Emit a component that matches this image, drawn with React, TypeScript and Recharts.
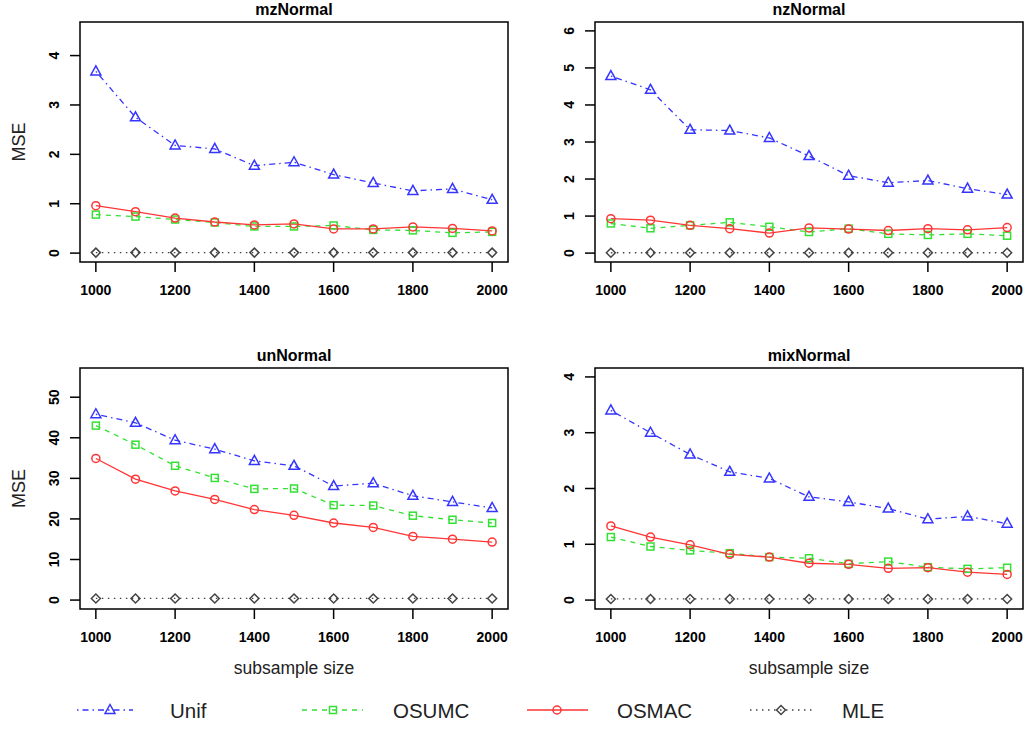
import React from "react";
import { LineChart, Line, XAxis, YAxis, ReferenceArea } from "recharts";

// subsample sizes on the x axis
const sizes = [1000, 1100, 1200, 1300, 1400, 1500, 1600, 1700, 1800, 1900, 2000];
const xTicks = [1000, 1200, 1400, 1600, 1800, 2000];

// mzNormal
const mzUnif = [3.68, 2.75, 2.18, 2.11, 1.77, 1.84, 1.59, 1.42, 1.26, 1.3, 1.08];
const mzOsumc = [0.78, 0.74, 0.68, 0.62, 0.54, 0.54, 0.56, 0.47, 0.46, 0.41, 0.43];
const mzOsmac = [0.96, 0.84, 0.71, 0.63, 0.57, 0.59, 0.49, 0.49, 0.53, 0.5, 0.45];
const mzMle = [0.01, 0.01, 0.01, 0.01, 0.01, 0.01, 0.01, 0.01, 0.01, 0.01, 0.01];

// nzNormal
const nzUnif = [4.78, 4.41, 3.33, 3.31, 3.11, 2.62, 2.09, 1.9, 1.96, 1.74, 1.58];
const nzOsumc = [0.8, 0.67, 0.75, 0.83, 0.71, 0.57, 0.66, 0.52, 0.49, 0.52, 0.47];
const nzOsmac = [0.93, 0.89, 0.75, 0.66, 0.54, 0.68, 0.65, 0.61, 0.66, 0.63, 0.69];
const nzMle = [0.01, 0.01, 0.01, 0.01, 0.01, 0.01, 0.01, 0.01, 0.01, 0.01, 0.01];

// unNormal
const unUnif = [45.8, 43.7, 39.4, 37.2, 34.3, 33.1, 28.1, 28.8, 25.7, 24.2, 22.7];
const unOsumc = [43.0, 38.3, 33.1, 30.1, 27.4, 27.5, 23.4, 23.3, 20.8, 19.8, 19.0];
const unOsmac = [34.9, 29.8, 26.9, 24.8, 22.3, 20.9, 19.0, 17.9, 15.7, 15.0, 14.3];
const unMle = [0.4, 0.4, 0.4, 0.4, 0.4, 0.4, 0.4, 0.4, 0.4, 0.4, 0.4];

// mixNormal
const mixUnif = [3.4, 3.0, 2.61, 2.3, 2.18, 1.85, 1.76, 1.64, 1.45, 1.5, 1.37];
const mixOsumc = [1.13, 0.96, 0.89, 0.84, 0.77, 0.75, 0.65, 0.69, 0.59, 0.56, 0.58];
const mixOsmac = [1.33, 1.13, 0.99, 0.82, 0.77, 0.66, 0.64, 0.57, 0.58, 0.5, 0.46];
const mixMle = [0.02, 0.02, 0.02, 0.02, 0.02, 0.02, 0.02, 0.02, 0.02, 0.02, 0.02];

const FONT = '"Liberation Sans", Arial, Helvetica, sans-serif';
const BLUE = "#3535ff";
const GREEN = "#33e033";
const RED = "#ff3535";
const GRAY = "#444444";

const BOX_W = 428;
const PAD = 4;

type PanelCfg = {
  title: string;
  ymax: number;
  yticks: number[];
  unif: number[];
  osumc: number[];
  osmac: number[];
  mle: number[];
  left: number; // left edge of the plot box
  top: number; // top edge of the plot box
  boxH: number;
};

const panels: PanelCfg[] = [
  { title: "mzNormal", ymax: 4.5, yticks: [0, 1, 2, 3, 4], unif: mzUnif, osumc: mzOsumc, osmac: mzOsmac, mle: mzMle, left: 80, top: 22, boxH: 240 },
  { title: "nzNormal", ymax: 6, yticks: [0, 1, 2, 3, 4, 5, 6], unif: nzUnif, osumc: nzOsumc, osmac: nzOsmac, mle: nzMle, left: 595, top: 22, boxH: 240 },
  { title: "unNormal", ymax: 55, yticks: [0, 10, 20, 30, 40, 50], unif: unUnif, osumc: unOsumc, osmac: unOsmac, mle: unMle, left: 80, top: 368, boxH: 241 },
  { title: "mixNormal", ymax: 4, yticks: [0, 1, 2, 3, 4], unif: mixUnif, osumc: mixOsumc, osmac: mixOsmac, mle: mixMle, left: 595, top: 368, boxH: 241 },
];

// R style point symbols
const renderTri = (p: any) =>
  p.cx == null ? <g key={`t${p.index}`} /> : (
    <polygon
      key={`t${p.index}`}
      points={`${p.cx},${p.cy - 5.5} ${p.cx - 5},${p.cy + 3.5} ${p.cx + 5},${p.cy + 3.5}`}
      fill="none"
      stroke={BLUE}
      strokeWidth={1.5}
    />
  );
const renderSq = (p: any) =>
  p.cx == null ? <g key={`s${p.index}`} /> : (
    <rect key={`s${p.index}`} x={p.cx - 3.5} y={p.cy - 3.5} width={7} height={7} fill="none" stroke={GREEN} strokeWidth={1.5} />
  );
const renderCirc = (p: any) =>
  p.cx == null ? <g key={`c${p.index}`} /> : (
    <circle key={`c${p.index}`} cx={p.cx} cy={p.cy} r={4} fill="none" stroke={RED} strokeWidth={1.5} />
  );
const renderDia = (p: any) =>
  p.cx == null ? <g key={`d${p.index}`} /> : (
    <polygon
      key={`d${p.index}`}
      points={`${p.cx},${p.cy - 4.5} ${p.cx + 4.5},${p.cy} ${p.cx},${p.cy + 4.5} ${p.cx - 4.5},${p.cy}`}
      fill="none"
      stroke={GRAY}
      strokeWidth={1.5}
    />
  );

const renderXTick = (p: any) => (
  <text x={p.x} y={p.y + 23} textAnchor="middle" fontFamily={FONT} fontSize={14} fontWeight="bold" fill="#000">
    {p.payload.value}
  </text>
);

const renderYTick = (p: any) => {
  const bx = p.x - 11;
  return (
    <text
      x={bx}
      y={p.y}
      transform={`rotate(-90 ${bx} ${p.y})`}
      textAnchor="middle"
      fontFamily={FONT}
      fontSize={14}
      fontWeight="bold"
      fill="#000"
    >
      {p.payload.value}
    </text>
  );
};

function Panel({ cfg }: { cfg: PanelCfg }) {
  const data = sizes.map((s, i) => ({
    size: s,
    unif: cfg.unif[i],
    osumc: cfg.osumc[i],
    osmac: cfg.osmac[i],
    mle: cfg.mle[i],
  }));
  const lo = -0.04 * cfg.ymax;
  const hi = 1.04 * cfg.ymax;

  return (
    <div style={{ position: "absolute", left: cfg.left - 80, top: cfg.top - PAD }}>
      <LineChart
        width={80 + BOX_W + PAD}
        height={PAD + cfg.boxH + 40}
        data={data}
        margin={{ top: PAD, right: PAD, left: 0, bottom: 0 }}
      >
        <XAxis
          type="number"
          dataKey="size"
          domain={[960, 2040]}
          ticks={xTicks}
          interval={0}
          allowDataOverflow
          axisLine={false}
          tickSize={10}
          tickMargin={0}
          tickLine={{ stroke: "#000", strokeWidth: 1.5 }}
          tick={renderXTick}
          height={40}
        />
        <YAxis
          type="number"
          domain={[lo, hi]}
          ticks={cfg.yticks}
          interval={0}
          allowDataOverflow
          width={80}
          axisLine={false}
          tickSize={10}
          tickMargin={0}
          tickLine={{ stroke: "#000", strokeWidth: 1.5 }}
          tick={renderYTick}
        />
        <ReferenceArea
          x1={960}
          x2={2040}
          y1={lo}
          y2={hi}
          fill="none"
          stroke="#000"
          strokeWidth={1.5}
          ifOverflow="visible"
        />
        <Line dataKey="unif" stroke={BLUE} strokeWidth={1.3} strokeDasharray="1.5 4 6 4" dot={renderTri} activeDot={false} isAnimationActive={false} />
        <Line dataKey="osumc" stroke={GREEN} strokeWidth={1.3} strokeDasharray="5 5" dot={renderSq} activeDot={false} isAnimationActive={false} />
        <Line dataKey="osmac" stroke={RED} strokeWidth={1.3} dot={renderCirc} activeDot={false} isAnimationActive={false} />
        <Line dataKey="mle" stroke={GRAY} strokeWidth={1.3} strokeDasharray="1.5 4.5" dot={renderDia} activeDot={false} isAnimationActive={false} />
      </LineChart>
    </div>
  );
}

export default function App() {
  return (
    <div style={{ position: "absolute", left: 0, top: 0, width: 1027, height: 729, background: "#fff", fontFamily: FONT }}>
      {panels.map((p) => (
        <Panel key={p.title} cfg={p} />
      ))}

      {/* titles, axis labels and legend */}
      <svg width={1027} height={729} style={{ position: "absolute", left: 0, top: 0, pointerEvents: "none" }}>
        {panels.map((p) => (
          <text key={p.title} x={p.left + BOX_W / 2} y={p.top - 7.5} textAnchor="middle" fontFamily={FONT} fontSize={16} fontWeight="bold" fill="#000">
            {p.title}
          </text>
        ))}
        {panels
          .filter((p) => p.left < 300)
          .map((p) => {
            const cy = p.top + p.boxH / 2;
            return (
              <text key={"y" + p.title} x={25} y={cy} transform={`rotate(-90 25 ${cy})`} textAnchor="middle" fontFamily={FONT} fontSize={18} fill="#222">
                MSE
              </text>
            );
          })}
        {panels
          .filter((p) => p.top > 300)
          .map((p) => (
            <text key={"x" + p.title} x={p.left + BOX_W / 2} y={674} textAnchor="middle" fontFamily={FONT} fontSize={17.5} fill="#222">
              subsample size
            </text>
          ))}

        {/* legend */}
        <line x1={77} y1={710} x2={133} y2={710} stroke={BLUE} strokeWidth={1.3} strokeDasharray="1.5 4 6 4" />
        <polygon points="110,704.5 105,713.5 115,713.5" fill="none" stroke={BLUE} strokeWidth={1.5} />
        <text x={170} y={718} fontFamily={FONT} fontSize={20.5} fill="#222">Unif</text>

        <line x1={302} y1={710} x2={363} y2={710} stroke={GREEN} strokeWidth={1.3} strokeDasharray="5 5" />
        <rect x={329.5} y={706.5} width={7} height={7} fill="none" stroke={GREEN} strokeWidth={1.5} />
        <text x={393} y={718} fontFamily={FONT} fontSize={20.5} fill="#222">OSUMC</text>

        <line x1={527} y1={710} x2={588} y2={710} stroke={RED} strokeWidth={1.3} />
        <circle cx={557} cy={710} r={4} fill="none" stroke={RED} strokeWidth={1.5} />
        <text x={617} y={718} fontFamily={FONT} fontSize={20.5} fill="#222">OSMAC</text>

        <line x1={750} y1={710} x2={812} y2={710} stroke={GRAY} strokeWidth={1.3} strokeDasharray="1.5 4.5" />
        <polygon points="781,705.5 785.5,710 781,714.5 776.5,710" fill="none" stroke={GRAY} strokeWidth={1.5} />
        <text x={842} y={718} fontFamily={FONT} fontSize={20.5} fill="#222">MLE</text>
      </svg>
    </div>
  );
}
